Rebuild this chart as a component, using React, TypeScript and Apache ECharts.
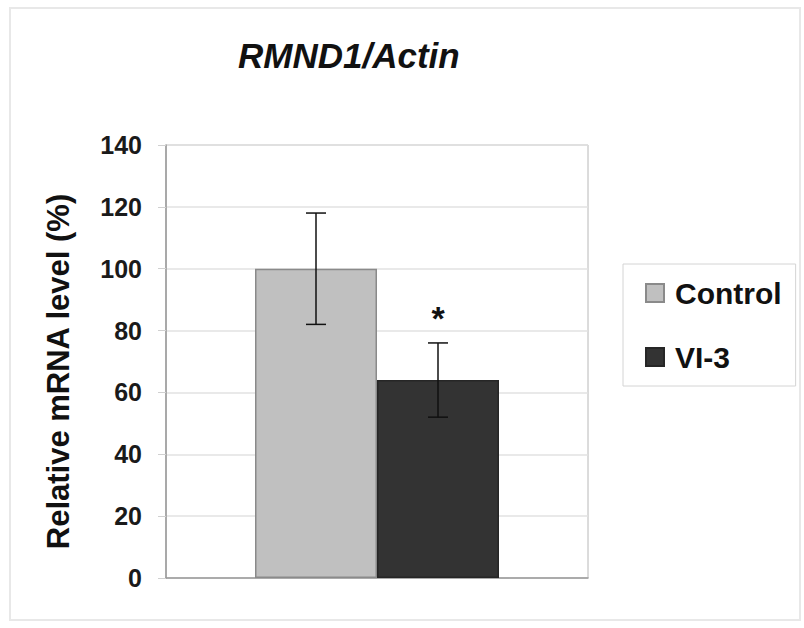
import React, { useEffect, useRef } from "react";
import * as echarts from "echarts";

const titleText = "RMND1/Actin";
const yAxisTitle = "Relative mRNA level (%)";
const groups = ["Control", "VI-3"];
const means = [100, 64];
const errors = [18, 12];
const significance = ["", "*"];
const yTicks = { min: 0, max: 140, interval: 20 };

const FONT = "'Liberation Sans', Arial, sans-serif";
const BAR_W = 122;

export default function App() {
  const ref = useRef<HTMLDivElement>(null);
  useEffect(() => {
    const el = ref.current!;
    const chart = echarts.init(el, null, { renderer: "svg" });
    const errorData = means.map((m, i) => [0, m - errors[i], m + errors[i], i]);
    chart.setOption({
      animation: false,
      backgroundColor: "#ffffff",
      textStyle: { fontFamily: FONT },
      title: {
        text: titleText,
        left: 238,
        top: 38,
        padding: 0,
        textStyle: {
          fontFamily: FONT,
          fontSize: 35,
          fontWeight: "bold",
          fontStyle: "italic",
          color: "#111111",
        },
      },
      graphic: [
        {
          type: "rect",
          silent: true,
          z: -10,
          shape: { x: 10, y: 8, width: 790, height: 612 },
          style: { fill: "none", stroke: "#e8e8e8", lineWidth: 2 },
        },
      ],
      legend: {
        orient: "vertical",
        left: 623,
        top: 264,
        padding: [14, 14, 14, 22],
        itemGap: 34,
        itemWidth: 18,
        itemHeight: 18,
        icon: "rect",
        borderColor: "#d4d4d4",
        borderWidth: 1,
        data: groups,
        textStyle: {
          fontFamily: FONT,
          fontSize: 30,
          fontWeight: "bold",
          color: "#111111",
          padding: [0, 0, 0, 6],
        },
      },
      grid: {
        left: 166,
        right: 216,
        top: 145,
        bottom: 50,
        show: true,
        borderColor: "#b8b8b8",
        borderWidth: 1,
      },
      xAxis: {
        type: "category",
        data: [""],
        axisLine: { show: true, lineStyle: { color: "#999999", width: 1.5 } },
        axisTick: { show: false },
        axisLabel: { show: false },
      },
      yAxis: {
        type: "value",
        min: yTicks.min,
        max: yTicks.max,
        interval: yTicks.interval,
        name: yAxisTitle,
        nameLocation: "middle",
        nameRotate: 90,
        nameGap: 92,
        nameTextStyle: {
          fontFamily: FONT,
          fontSize: 31,
          fontWeight: "bold",
          color: "#111111",
          padding: [0, 20, 0, 0],
        },
        axisLine: { show: true, lineStyle: { color: "#999999", width: 1.5 } },
        axisTick: { show: true, length: 8, lineStyle: { color: "#d0d0d0" } },
        axisLabel: {
          margin: 24,
          fontFamily: FONT,
          fontSize: 25,
          fontWeight: "bold",
          color: "#1a1a1a",
        },
        splitLine: { show: true, lineStyle: { color: "#e2e2e2", width: 1.5 } },
      },
      series: [
        {
          name: groups[0],
          type: "bar",
          data: [means[0]],
          barWidth: BAR_W,
          barGap: "0%",
          itemStyle: { color: "#c0c0c0", borderColor: "#8a8a8a", borderWidth: 1.5 },
        },
        {
          name: groups[1],
          type: "bar",
          data: [means[1]],
          barWidth: BAR_W,
          barGap: "0%",
          itemStyle: { color: "#333333", borderColor: "#262626", borderWidth: 1.5 },
        },
        {
          type: "custom",
          silent: true,
          z: 10,
          data: errorData,
          encode: { x: 0, y: [1, 2] },
          renderItem: (params: any, api: any) => {
            const idx = api.value(3);
            const lo = api.coord([0, api.value(1)]);
            const hi = api.coord([0, api.value(2)]);
            const cx = lo[0] + (idx - 0.5) * BAR_W;
            const half = 10;
            const stroke = { stroke: "#111111", lineWidth: 1.5 };
            const children: any[] = [
              { type: "line", shape: { x1: cx, y1: lo[1], x2: cx, y2: hi[1] }, style: stroke },
              { type: "line", shape: { x1: cx - half, y1: lo[1], x2: cx + half, y2: lo[1] }, style: stroke },
              { type: "line", shape: { x1: cx - half, y1: hi[1], x2: cx + half, y2: hi[1] }, style: stroke },
            ];
            const sig = significance[idx];
            if (sig) {
              children.push({
                type: "text",
                style: {
                  text: sig,
                  x: cx,
                  y: hi[1] - 25,
                  align: "center",
                  verticalAlign: "middle",
                  fontFamily: FONT,
                  fontSize: 34,
                  fontWeight: "bold",
                  fill: "#111111",
                },
              });
            }
            return { type: "group", children };
          },
        },
      ],
    });
    return () => chart.dispose();
  }, []);
  return (
    <div
      ref={ref}
      style={{ position: "fixed", left: 0, top: 0, width: 804, height: 628 }}
    />
  );
}
